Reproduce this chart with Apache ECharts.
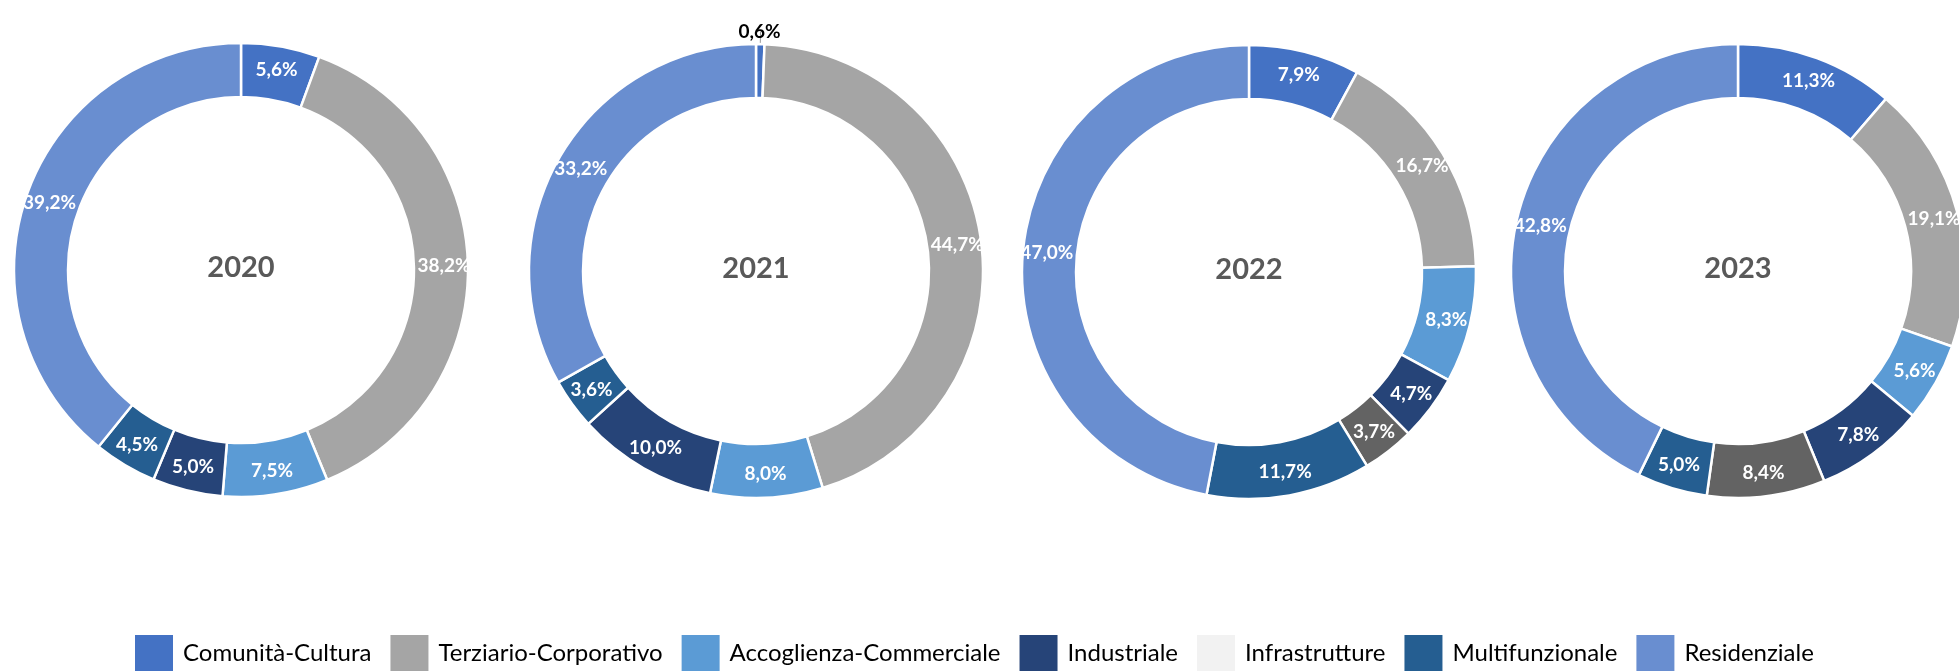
<!DOCTYPE html>
<html>
<head>
<meta charset="utf-8">
<script src="https://cdn.jsdelivr.net/npm/echarts@6/dist/echarts.min.js"></script>
<style>
  html, body { margin: 0; padding: 0; background: #fff; }
  #main { width: 1959px; height: 671px; }
</style>
</head>
<body>
<div id="main"></div>
<script>
var categories = ["Comunità-Cultura", "Terziario-Corporativo", "Accoglienza-Commerciale", "Industriale", "Infrastrutture", "Multifunzionale", "Residenziale"];
var years = ["2020", "2021", "2022", "2023"];
var v2020 = [5.6, 38.2, 7.5, 5.0, null, 4.5, 39.2];
var v2021 = [0.6, 44.7, 8.0, 10.0, null, 3.6, 33.2];
var v2022 = [7.9, 16.7, 8.3, 4.7, 3.7, 11.7, 47.0];
var v2023 = [11.3, 19.1, 5.6, 7.8, 8.4, 5.0, 42.8];

var sliceColors = ["#4472C4", "#A5A5A5", "#5B9BD5", "#264478", "#636363", "#255E91", "#698ED0"];
var legendColors = ["#4472C4", "#A5A5A5", "#5B9BD5", "#264478", "#F2F2F2", "#255E91", "#698ED0"];
var centers = [[241, 270], [756, 271], [1249, 272], [1738, 271]];

var chart = echarts.init(document.getElementById("main"));

function fmt(v) {
  return v.toFixed(1).replace(".", ",") + "%";
}

function buildSeries(values, idx) {
  var data = [];
  values.forEach(function (v, i) {
    if (v === null) return;
    var item = { name: categories[i], value: v, itemStyle: { color: sliceColors[i] } };
    // la fetta piccola del 2021 ha l'etichetta fuori, sopra l'anello
    if (v < 1) {
      item.label = { position: "outside", color: "#000", distanceToLabelLine: -22, padding: [0, 0, 14, 0] };
      item.labelLine = { show: true, length: 12, length2: 0, lineStyle: { color: "#999", width: 1 } };
    }
    data.push(item);
  });
  return {
    type: "pie",
    name: years[idx],
    center: centers[idx],
    radius: [173, 227],
    startAngle: 90,
    clockwise: true,
    avoidLabelOverlap: false,
    silent: true,
    itemStyle: { borderColor: "#fff", borderWidth: 2.5 },
    label: {
      show: true,
      position: "inside",
      color: "#fff",
      fontFamily: "Lato",
      fontWeight: "bold",
      fontSize: 19,
      formatter: function (p) { return fmt(p.value); }
    },
    labelLine: { show: false },
    data: data
  };
}

var option = {
  animation: false,
  title: years.map(function (y, i) {
    return {
      text: y,
      left: centers[i][0],
      top: centers[i][1] - 17,
      textAlign: "center",
      padding: 0,
      textStyle: { fontFamily: "Lato", fontWeight: "bold", fontSize: 29, color: "#595959" }
    };
  }),
  legend: {
    left: 133,
    top: 633,
    padding: 0,
    itemWidth: 40,
    itemHeight: 38,
    itemGap: 17,
    icon: "rect",
    textStyle: { fontFamily: "Lato", fontSize: 24, color: "#000", padding: [0, 0, 0, 4] },
    data: categories.map(function (c, i) {
      return { name: c, itemStyle: { color: legendColors[i] } };
    })
  },
  series: [buildSeries(v2020, 0), buildSeries(v2021, 1), buildSeries(v2022, 2), buildSeries(v2023, 3)]
};

chart.setOption(option);
</script>
</body>
</html>
